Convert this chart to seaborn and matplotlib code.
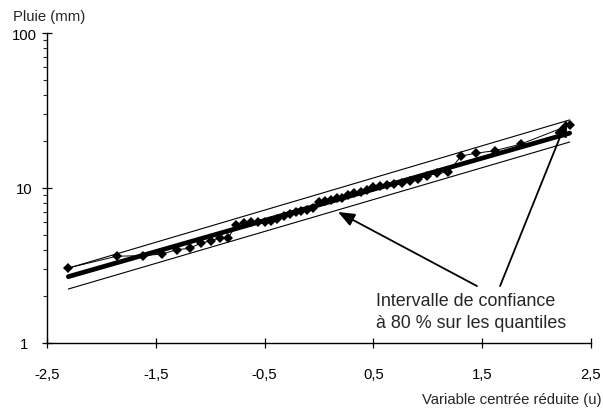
import numpy as np
import pandas as pd
import matplotlib
matplotlib.use("Agg")
import matplotlib.pyplot as plt
import seaborn as sns
from matplotlib.ticker import LogLocator, FixedLocator, FixedFormatter, NullFormatter

# ---- data ----
u_obs = [-2.304, -1.858, -1.614, -1.443, -1.306, -1.190, -1.088, -0.996, -0.912, -0.834,
         -0.761, -0.691, -0.625, -0.562, -0.499, -0.440, -0.382, -0.326, -0.270, -0.215,
         -0.161, -0.107, -0.053, 0.000, 0.053, 0.107, 0.161, 0.215, 0.270, 0.326,
         0.382, 0.440, 0.499, 0.562, 0.625, 0.691, 0.761, 0.834, 0.912, 0.996,
         1.088, 1.190, 1.306, 1.443, 1.614, 1.858, 2.304]
rain_obs = [3.05, 3.63, 3.66, 3.75, 4.00, 4.08, 4.40, 4.57, 4.76, 4.76,
            5.80, 5.92, 6.01, 6.01, 6.06, 6.15, 6.31, 6.57, 6.80, 6.95,
            7.11, 7.21, 7.38, 8.18, 8.24, 8.37, 8.56, 8.68, 8.95, 9.24,
            9.49, 9.75, 10.10, 10.33, 10.50, 10.64, 10.77, 11.05, 11.43, 12.01,
            12.41, 12.69, 16.09, 16.77, 17.40, 19.22, 25.5]

u_line = [-2.304, 2.304]
rain_fit = [2.68, 22.6]
rain_upper = [3.04, 27.5]
rain_lower = [2.23, 19.8]

x_ticks = [-2.5, -1.5, -0.5, 0.5, 1.5, 2.5]
x_ticklabels = ["-2,5", "-1,5", "-0,5", "0,5", "1,5", "2,5"]
y_ticks = [1, 10, 100]
y_ticklabels = ["1", "10", "100"]

annot_text = "Intervalle de confiance\nà 80 % sur les quantiles"
arrow_tips = [(0.175, 7.0), (2.279, 27.5)]
arrow_tails = [(1.452, 2.33), (1.664, 2.33)]

# ---- plot ----
sns.set_style("white")
plt.rcParams["font.family"] = ["Liberation Sans", "DejaVu Sans"]
FS = 10.7

W, H = 603, 410
fig = plt.figure(figsize=(W / 100, H / 100), dpi=100)
ax = fig.add_axes([47 / W, 1 - 344 / H, (591 - 47) / W, (344 - 34) / H])

df_obs = pd.DataFrame({"u": u_obs, "pluie": rain_obs})
df_fit = pd.DataFrame({"u": u_line, "pluie": rain_fit})
df_up = pd.DataFrame({"u": u_line, "pluie": rain_upper})
df_lo = pd.DataFrame({"u": u_line, "pluie": rain_lower})

sns.lineplot(data=df_up, x="u", y="pluie", ax=ax, color="black", lw=0.8, sort=False, estimator=None)
sns.lineplot(data=df_lo, x="u", y="pluie", ax=ax, color="black", lw=0.8, sort=False, estimator=None)
sns.lineplot(data=df_fit, x="u", y="pluie", ax=ax, color="black", lw=3.4, sort=False, estimator=None)
sns.lineplot(data=df_obs, x="u", y="pluie", ax=ax, color="black", lw=0.7, marker="D",
             markersize=5.2, markeredgewidth=0, sort=False, estimator=None)

ax.set_yscale("log")
ax.set_xlim(-2.5, 2.5)
ax.set_ylim(1, 100)

ax.xaxis.set_major_locator(FixedLocator(x_ticks))
ax.xaxis.set_major_formatter(FixedFormatter(x_ticklabels))
ax.yaxis.set_major_locator(FixedLocator(y_ticks))
ax.yaxis.set_major_formatter(FixedFormatter(y_ticklabels))
ax.yaxis.set_minor_locator(LogLocator(base=10, subs=np.arange(2, 10)))
ax.yaxis.set_minor_formatter(NullFormatter())

ax.tick_params(axis="both", which="major", direction="inout", length=7, width=0.9,
               colors="black", labelsize=FS, bottom=True, left=True)
ax.tick_params(axis="x", which="major", pad=14)
ax.tick_params(axis="y", which="major", pad=13)
ax.tick_params(axis="y", which="minor", direction="out", length=3, width=0.8, left=True)
for lab in ax.get_yticklabels():
    lab.set_horizontalalignment("center")

for s in ["top", "right"]:
    ax.spines[s].set_visible(False)
for s in ["left", "bottom"]:
    ax.spines[s].set_color("black")
    ax.spines[s].set_linewidth(1.0)

ax.set_xlabel("")
ax.set_ylabel("")

fig.text(13 / W, 1 - 17 / H, "Pluie (mm)", fontsize=FS, va="center", ha="left")
fig.text(601 / W, 1 - 400 / H, "Variable centrée réduite (u)", fontsize=FS, va="center", ha="right")
fig.text(376 / W, 1 - 293 / H, annot_text, fontsize=12.9, va="top", ha="left", linespacing=1.38)

for tip, tail in zip(arrow_tips, arrow_tails):
    ax.annotate("", xy=tip, xytext=tail,
                arrowprops=dict(arrowstyle="-|>,head_length=1.0,head_width=0.4",
                                color="black", lw=1.3, shrinkA=0, shrinkB=0))

fig.savefig("out.png", dpi=100, facecolor="white")
